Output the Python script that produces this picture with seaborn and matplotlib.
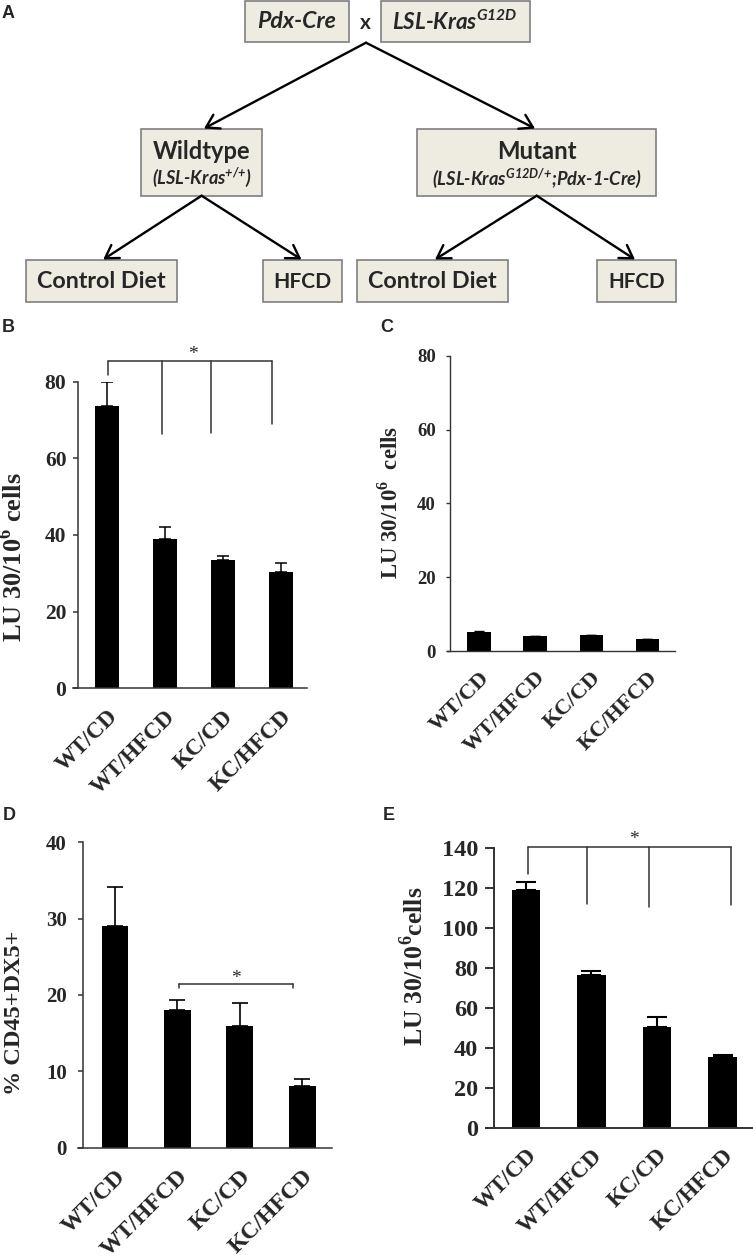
import matplotlib
matplotlib.use("Agg")
import matplotlib.pyplot as plt
import numpy as np
import pandas as pd
import seaborn as sns
from matplotlib import font_manager
from matplotlib.patches import Rectangle

W, H = 753, 1259

GROUPS = ["WT/CD", "WT/HFCD", "KC/CD", "KC/HFCD"]

B_MEAN = [73.7, 38.9, 33.5, 30.2]
B_ERR = [6.3, 3.1, 1.0, 2.4]
C_MEAN = [5.2, 4.15, 4.25, 3.2]
C_ERR = [0.2, 0.05, 0.1, 0.1]
D_MEAN = [29.0, 18.1, 16.0, 8.1]
D_ERR = [5.1, 1.3, 3.0, 0.9]
E_MEAN = [118.7, 76.3, 50.5, 35.4]
E_ERR = [4.0, 2.0, 4.9, 1.3]

# significance brackets: x in bar units, drop ends, bracket height, star position
B_SIG = dict(x=[0.01, 0.95, 1.79, 2.85], drop=[81.8, 66.3, 66.7, 68.9], y=85.5, star=(1.49, 87.3))
D_SIG = dict(x=[1.02, 2.85], drop=[20.9, 20.9], y=21.4, star=(1.94, 22.2))
E_SIG = dict(x=[0.04, 0.93, 1.88, 3.13], drop=[126.8, 111.9, 110.5, 111.4], y=140.2, star=(1.65, 144.3))

# diagram (panel A) content
TOP_LEFT = "Pdx-Cre"
TOP_RIGHT = r"LSL-Kras$^{\mathdefault{G12D}}$"
WT_TITLE, WT_SUB = "Wildtype", r"(LSL-Kras$^{\mathdefault{{+}/{+}}}$)"
MUT_TITLE, MUT_SUB = "Mutant", r"(LSL-Kras$^{\mathdefault{G12D/{+}}}$;Pdx-1-Cre)"
DIETS = ["Control Diet", "HFCD", "Control Diet", "HFCD"]

names = {f.name for f in font_manager.fontManager.ttflist}
SANS = "Lato" if "Lato" in names else "DejaVu Sans"

sns.set_theme(style="white")
plt.rcParams["font.family"] = ["Liberation Serif", "DejaVu Serif"]
plt.rcParams["font.weight"] = "bold"
plt.rcParams["axes.labelweight"] = "bold"

AXC = "#333333"
BOXFILL = "#EEECE1"
BOXEDGE = "#7F7F7F"


def fit_text(ax, x, y, s, width, **kw):
    t = ax.text(x, y, s, ha="center", va="center", fontsize=12, **kw)
    r = ax.figure.canvas.get_renderer()
    t.set_fontsize(12 * width / t.get_window_extent(r).width)
    return t


def box(ax, x0, y0, x1, y1):
    ax.add_patch(Rectangle((x0, y0), x1 - x0, y1 - y0, facecolor=BOXFILL,
                           edgecolor=BOXEDGE, lw=1.2))


def arrow(ax, start, end):
    ax.annotate("", xy=end, xytext=start,
                arrowprops=dict(arrowstyle="->,head_length=0.45,head_width=0.28",
                                lw=1.7, color="black", shrinkA=0, shrinkB=0,
                                mutation_scale=20))


def draw_diagram(ax):
    sans = dict(family=[SANS, "DejaVu Sans"], fontweight="bold")
    box(ax, 245, 1, 349.5, 42)
    box(ax, 381, 1, 530, 42)
    fit_text(ax, 296.4, 21.7, TOP_LEFT, 79, fontstyle="italic", **sans)
    fit_text(ax, 455, 21.7, TOP_RIGHT, 126, fontstyle="italic", **sans)
    ax.text(365, 23, "x", ha="center", va="center", fontsize=15, **sans)

    box(ax, 140.7, 129, 262, 195.7)
    box(ax, 417.3, 129, 656, 195.7)
    fit_text(ax, 201.2, 151, WT_TITLE, 97, **sans)
    fit_text(ax, 201.7, 178, WT_SUB, 100, fontstyle="italic", **sans)
    fit_text(ax, 537, 151, MUT_TITLE, 79, **sans)
    fit_text(ax, 536.7, 179, MUT_SUB, 210, fontstyle="italic", **sans)

    bottom = [(25.9, 177.1, 101.5, 128), (263, 341.8, 302.5, 57.7),
              (357.2, 508.3, 432.7, 128), (596.7, 675.7, 636.7, 56.7)]
    for label, (x0, x1, xc, tw) in zip(DIETS, bottom):
        box(ax, x0, 260, x1, 301.7)
        fit_text(ax, xc, 281.5, label, tw, **sans)

    arrow(ax, (366, 42.7), (204, 128.5))
    arrow(ax, (366, 42.7), (535, 128.5))
    arrow(ax, (201.6, 195.7), (103.2, 259.5))
    arrow(ax, (201.6, 195.7), (301.5, 259.5))
    arrow(ax, (536.7, 195.7), (435, 259.5))
    arrow(ax, (536.7, 195.7), (635, 259.5))


def bar_panel(fig, means, errs, lay, ymax, step, ylabel, sig=None):
    x0, x1, ytop, ybot = lay["xleft"], lay["xright"], lay["ytop"], lay["ybot"]
    ax = fig.add_axes([x0 / W, 1 - ybot / H, (x1 - x0) / W, (ybot - ytop) / H])
    ax.patch.set_visible(False)
    df = pd.DataFrame({"group": GROUPS, "value": means})
    sns.barplot(data=df, x="group", y="value", color="black", saturation=1,
                width=lay["bw"], errorbar=None, linewidth=0, ax=ax)
    ax.errorbar(np.arange(len(means)), means, yerr=[np.zeros(len(errs)), errs],
                fmt="none", ecolor="black", elinewidth=lay["elw"],
                capsize=lay["cap"], capthick=lay["elw"])
    c0, sp = lay["c0"], lay["sp"]
    ax.set_xlim((x0 - c0) / sp, (x1 - c0) / sp)
    ax.set_ylim(0, ymax)
    ax.set_xlabel("")
    ax.set_ylabel("")

    for s in ["top", "right"]:
        ax.spines[s].set_visible(False)
    ax.spines["left"].set_position(("data", (lay["spine"] - c0) / sp))
    ax.spines["left"].set_bounds(0, ymax)
    for s in ["left", "bottom"]:
        ax.spines[s].set_color(AXC)
        ax.spines[s].set_linewidth(lay["slw"])
    ax.set_yticks(np.arange(0, ymax + 1, step))
    ax.tick_params(axis="y", direction="out", length=lay["tlen"], width=lay["slw"],
                   color=AXC, pad=lay["ypad"], labelsize=lay["ytfs"], left=True)
    ax.tick_params(axis="x", length=0, pad=lay["xpad"], labelsize=lay["xtfs"])
    ax.set_xticks(np.arange(len(GROUPS)))
    ax.set_xticklabels(GROUPS, rotation=45, ha="right", rotation_mode="anchor",
                       fontweight="bold")
    for lab in ax.get_yticklabels():
        lab.set_fontweight("bold")
    ax.grid(False)

    fig.text(lay["ylx"] / W, 1 - lay["yly"] / H, ylabel, rotation=90,
             ha="center", va="center", fontsize=lay["ylfs"], fontweight="bold")

    if sig is not None:
        xs = sig["x"]
        ax.plot([xs[0], xs[-1]], [sig["y"], sig["y"]], color=AXC, lw=1.1, clip_on=False)
        for xv, yd in zip(xs, sig["drop"]):
            ax.plot([xv, xv], [sig["y"], yd], color=AXC, lw=1.1, clip_on=False)
        ax.text(sig["star"][0], sig["star"][1], "*", ha="center", va="center",
                fontsize=14, fontweight="normal", clip_on=False)
    return ax


LAYOUT = {
    "B": dict(xleft=73, xright=307, ytop=382, ybot=688, c0=107, sp=57.9, spine=78,
              bw=0.415, elw=1.1, cap=4.3, slw=1.1, tlen=3.8, ypad=4.5, ytfs=15.5,
              xtfs=16.5, xpad=13, ylfs=19, ylx=13, yly=557),
    "C": dict(xleft=447, xright=675, ytop=356, ybot=651, c0=479, sp=56.1, spine=450,
              bw=0.415, elw=1.0, cap=3.5, slw=1.0, tlen=3.2, ypad=7, ytfs=13.5,
              xtfs=16, xpad=12, ylfs=16.5, ylx=390, yly=502),
    "D": dict(xleft=78, xright=332, ytop=842.3, ybot=1147.7, c0=115, sp=62.4, spine=83,
              bw=0.43, elw=1.2, cap=6, slw=1.1, tlen=3.6, ypad=8, ytfs=15,
              xtfs=17, xpad=13, ylfs=17.5, ylx=15, yly=1013),
    "E": dict(xleft=486, xright=753, ytop=847.7, ybot=1128.3, c0=525.8, sp=65.6, spine=494,
              bw=0.43, elw=1.5, cap=7, slw=1.4, tlen=6.5, ypad=5, ytfs=17.5,
              xtfs=16.5, xpad=12, ylfs=18.5, ylx=414, yly=966),
}


def main():
    fig = plt.figure(figsize=(W / 100, H / 100), dpi=100)
    fig.patch.set_facecolor("white")
    ax0 = fig.add_axes([0, 0, 1, 1])
    ax0.set_xlim(0, W)
    ax0.set_ylim(H, 0)
    ax0.axis("off")
    draw_diagram(ax0)

    letters = [("A", 8, 13), ("B", 8, 327), ("C", 387, 327), ("D", 9, 815), ("E", 389, 815)]
    for s, x, y in letters:
        ax0.text(x, y, s, ha="center", va="center", fontsize=13,
                 family=["Liberation Sans", "DejaVu Sans"], fontweight="bold")

    bar_panel(fig, B_MEAN, B_ERR, LAYOUT["B"], 80, 20,
              r"LU 30/10$^{\mathdefault{6}}$ cells", B_SIG)
    bar_panel(fig, C_MEAN, C_ERR, LAYOUT["C"], 80, 20,
              r"LU 30/10$^{\mathdefault{6}}$  cells")
    bar_panel(fig, D_MEAN, D_ERR, LAYOUT["D"], 40, 10, "% CD45+DX5+", D_SIG)
    bar_panel(fig, E_MEAN, E_ERR, LAYOUT["E"], 140, 20,
              r"LU 30/10$^{\mathdefault{6}}$cells", E_SIG)

    fig.savefig("out.png", dpi=100, facecolor="white")
    plt.close(fig)


if __name__ == "__main__":
    main()
